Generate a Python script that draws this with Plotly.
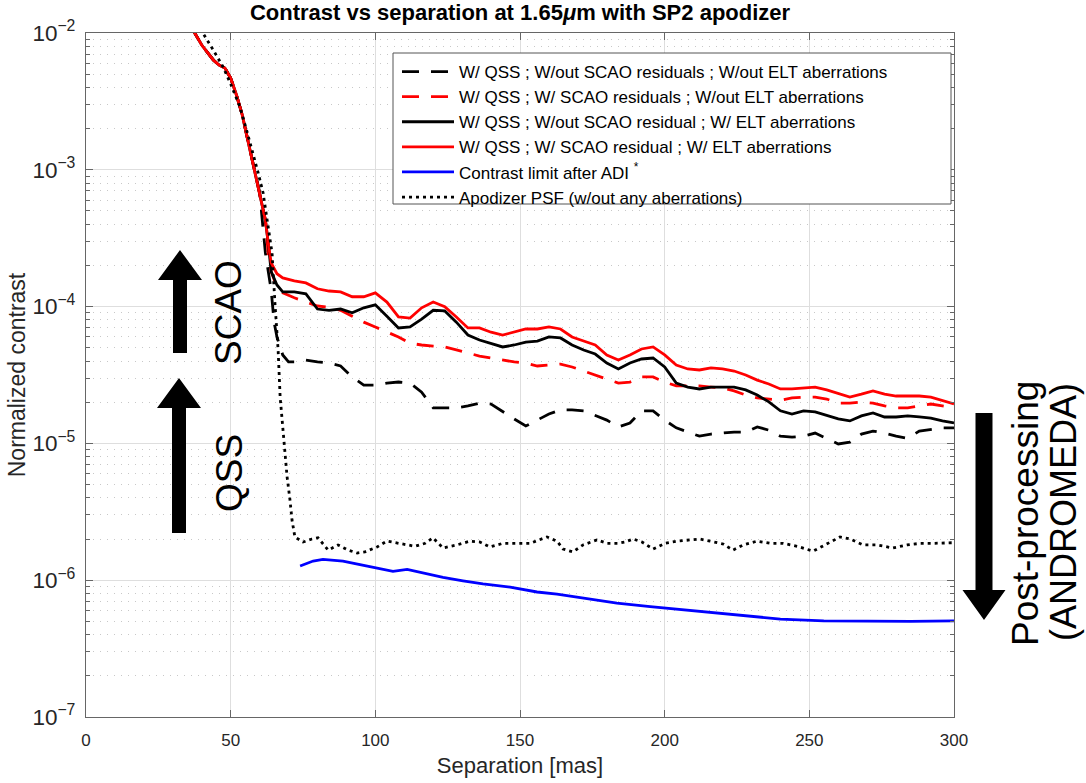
import plotly.graph_objects as go

FONT = "Liberation Sans, Arial, Helvetica, sans-serif"

# ---------------- data (separation in mas, normalized contrast) ----------------
# steep core of the PSF, common to the four simulated curves
steep_sep = [36, 40, 44, 46, 48, 50, 52, 54, 56, 58, 60]
steep_val = [1.14e-2, 8.17e-3, 6.35e-3, 5.83e-3, 5.55e-3, 4.69e-3, 3.52e-3,
             2.52e-3, 1.62e-3, 1.05e-3, 6.9e-4]

tail_sep = [68, 72, 76, 80, 84, 88, 92, 96, 100, 104, 108, 112, 116, 120, 124,
            128, 132, 136, 140, 144, 148, 152, 156, 160, 164, 168, 172, 176, 180,
            184, 188, 192, 196, 200, 204, 208, 212, 216, 220, 224, 228, 232, 236,
            240, 244, 248, 252, 256, 260, 264, 268, 272, 276, 280, 284, 288, 292,
            296, 300]

# W/ QSS ; W/ SCAO residual ; W/ ELT aberrations (red solid)
rs_knee_sep = [62, 63, 64, 66]
rs_knee_val = [4.3e-4, 2.9e-4, 2.09e-4, 1.74e-4]
rs_tail = [1.62e-4, 1.54e-4, 1.49e-4, 1.35e-4, 1.30e-4, 1.28e-4, 1.18e-4, 1.18e-4,
           1.26e-4, 1.08e-4, 8.4e-5, 8.25e-5, 9.8e-5, 1.08e-4, 1.0e-4, 8.4e-5,
           6.98e-5, 6.98e-5, 6.5e-5, 6.2e-5, 6.5e-5, 6.86e-5, 6.86e-5, 7.1e-5,
           6.86e-5, 6.0e-5, 5.6e-5, 5.24e-5, 4.43e-5, 4.07e-5, 4.43e-5, 4.9e-5,
           5.07e-5, 4.43e-5, 3.74e-5, 3.5e-5, 3.44e-5, 3.56e-5, 3.5e-5, 3.38e-5,
           3.16e-5, 2.9e-5, 2.72e-5, 2.5e-5, 2.5e-5, 2.54e-5, 2.58e-5, 2.46e-5,
           2.33e-5, 2.18e-5, 2.29e-5, 2.42e-5, 2.29e-5, 2.22e-5, 2.22e-5, 2.22e-5,
           2.18e-5, 2.07e-5, 1.94e-5]

# W/ QSS ; W/out SCAO residual ; W/ ELT aberrations (black solid)
bs_knee_sep = [62, 63, 64, 66]
bs_knee_val = [4.3e-4, 2.9e-4, 1.8e-4, 1.44e-4]
bs_tail = [1.28e-4, 1.28e-4, 1.24e-4, 9.6e-5, 9.4e-5, 9.6e-5, 9.0e-5, 9.8e-5,
           1.03e-4, 8.5e-5, 6.98e-5, 7.1e-5, 8.1e-5, 9.4e-5, 9.3e-5, 7.7e-5,
           6.2e-5, 5.7e-5, 5.4e-5, 5.07e-5, 5.24e-5, 5.5e-5, 5.6e-5, 6.0e-5,
           5.9e-5, 5.24e-5, 4.82e-5, 4.5e-5, 3.87e-5, 3.5e-5, 3.87e-5, 4.14e-5,
           4.21e-5, 3.62e-5, 2.76e-5, 2.58e-5, 2.5e-5, 2.58e-5, 2.58e-5, 2.58e-5,
           2.46e-5, 2.26e-5, 2.01e-5, 1.73e-5, 1.64e-5, 1.73e-5, 1.70e-5, 1.61e-5,
           1.51e-5, 1.46e-5, 1.59e-5, 1.67e-5, 1.56e-5, 1.56e-5, 1.59e-5, 1.56e-5,
           1.53e-5, 1.46e-5, 1.41e-5]

# W/ QSS ; W/ SCAO residuals ; W/out ELT aberrations (red dashed)
rd_knee_sep = [62, 63, 64, 66]
rd_knee_val = [4.3e-4, 2.4e-4, 1.8e-4, 1.39e-4]
rd_tail = [1.26e-4, 1.16e-4, 1.08e-4, 1.01e-4, 9.9e-5, 9.4e-5, 8.5e-5, 7.7e-5,
           7.1e-5, 6.5e-5, 6.0e-5, 5.4e-5, 5.24e-5, 5.15e-5, 5.07e-5, 4.82e-5,
           4.58e-5, 4.35e-5, 4.21e-5, 4.07e-5, 3.94e-5, 3.87e-5, 3.68e-5, 3.74e-5,
           3.8e-5, 3.62e-5, 3.38e-5, 3.16e-5, 2.96e-5, 2.76e-5, 2.81e-5, 3.06e-5,
           3.06e-5, 2.81e-5, 2.63e-5, 2.63e-5, 2.63e-5, 2.58e-5, 2.54e-5, 2.42e-5,
           2.26e-5, 2.15e-5, 2.11e-5, 2.07e-5, 2.15e-5, 2.18e-5, 2.18e-5, 2.11e-5,
           1.97e-5, 1.97e-5, 2.01e-5, 1.97e-5, 1.88e-5, 1.82e-5, 1.82e-5, 1.88e-5,
           1.94e-5, 1.88e-5, 1.82e-5]

# W/ QSS ; W/out SCAO residuals ; W/out ELT aberrations (black dashed)
bd_knee_sep = [62, 63, 64, 65, 66, 68, 70]
bd_knee_val = [2.47e-4, 1.85e-4, 1.32e-4, 7.7e-5, 6.0e-5, 4.43e-5, 3.94e-5]
bd_tail = [3.94e-5, 4.07e-5, 3.94e-5, 3.87e-5, 3.68e-5, 3.06e-5, 2.67e-5,
           2.67e-5, 2.76e-5, 2.81e-5, 2.76e-5, 2.37e-5, 1.82e-5, 1.82e-5, 1.82e-5,
           1.88e-5, 1.97e-5, 1.94e-5, 1.70e-5, 1.51e-5, 1.34e-5, 1.48e-5, 1.64e-5,
           1.76e-5, 1.76e-5, 1.73e-5, 1.61e-5, 1.48e-5, 1.32e-5, 1.41e-5, 1.73e-5,
           1.73e-5, 1.48e-5, 1.30e-5, 1.21e-5, 1.13e-5, 1.17e-5, 1.19e-5, 1.21e-5,
           1.21e-5, 1.32e-5, 1.25e-5, 1.13e-5, 1.11e-5, 1.13e-5, 1.19e-5, 1.09e-5,
           9.9e-6, 1.02e-5, 1.17e-5, 1.23e-5, 1.19e-5, 1.13e-5, 1.09e-5, 1.23e-5,
           1.27e-5, 1.30e-5, 1.30e-5]   # from 72 mas onward

# Contrast limit after ADI (blue)
adi_sep = [74, 78.5, 81.9, 88.8, 94.7, 100.6, 106.1, 111, 115.5, 123.4, 130.3,
           137.2, 146.6, 155.9, 162.8, 171.8, 183.5, 195, 212, 226, 240, 255,
           270, 285, 300]
adi_val = [1.27e-6, 1.38e-6, 1.42e-6, 1.38e-6, 1.30e-6, 1.23e-6, 1.16e-6,
           1.20e-6, 1.14e-6, 1.05e-6, 9.9e-7, 9.4e-7, 8.9e-7, 8.2e-7, 7.9e-7,
           7.4e-7, 6.8e-7, 6.4e-7, 5.9e-7, 5.5e-7, 5.2e-7, 5.05e-7, 5.0e-7,
           5.0e-7, 5.05e-7]

# Apodizer PSF without aberrations (black dotted)
psf_sep = [38, 40.4, 44, 47.4, 50, 53.2, 55.5, 57.7, 59.5, 61.2, 63, 64.3, 65.3,
           66.4, 67.1, 68.1, 69.5, 70.5, 71.2, 72.2, 75, 78.1, 80.2, 83.7, 87.1,
           90.6, 93.7, 96.4, 100.6, 104, 108.5, 113.7, 117.2, 119.9, 123.4, 128.2,
           132.7, 136.2, 139.6, 144.1, 149, 153.5, 159.3, 162.8, 164.9, 168.3,
           171.8, 176.6, 180.1, 183.9, 186.3, 189.1, 192.2, 196, 200.1, 204.3,
           208.8, 212.2, 215.7, 220.2, 223.6, 227.1, 231.9, 236.4, 240.9, 245.8,
           251.3, 256.1, 260.6, 264.1, 268.6, 273.4, 278.9, 283.8, 288.3, 292.8,
           298.7, 300]
psf_val = [1.18e-2, 1.0e-2, 7.5e-3, 5.64e-3, 4.24e-3, 2.88e-3, 1.95e-3, 1.33e-3,
           9.5e-4, 6.8e-4, 3.95e-4, 2.47e-4, 1.06e-4, 4.82e-5, 2.18e-5, 1.25e-5,
           5.7e-6, 3.86e-6, 2.75e-6, 2.07e-6, 1.9e-6, 2.0e-6, 2.04e-6, 1.66e-6,
           1.81e-6, 1.66e-6, 1.58e-6, 1.61e-6, 1.75e-6, 1.93e-6, 1.86e-6, 1.77e-6,
           1.86e-6, 2.04e-6, 1.72e-6, 1.81e-6, 1.93e-6, 1.90e-6, 1.75e-6, 1.86e-6,
           1.86e-6, 1.86e-6, 2.07e-6, 1.93e-6, 1.69e-6, 1.61e-6, 1.81e-6, 1.97e-6,
           1.86e-6, 1.86e-6, 1.90e-6, 2.0e-6, 1.90e-6, 1.69e-6, 1.86e-6, 1.93e-6,
           1.97e-6, 2.0e-6, 1.93e-6, 1.84e-6, 1.66e-6, 1.81e-6, 1.93e-6, 1.86e-6,
           1.86e-6, 1.77e-6, 1.63e-6, 1.84e-6, 2.07e-6, 2.0e-6, 1.81e-6, 1.81e-6,
           1.72e-6, 1.81e-6, 1.86e-6, 1.86e-6, 1.86e-6, 1.88e-6]

labels = [
    "W/ QSS ; W/out SCAO residuals ; W/out ELT aberrations",
    "W/ QSS ; W/ SCAO residuals ; W/out ELT aberrations",
    "W/ QSS ; W/out SCAO residual ; W/ ELT aberrations",
    "W/ QSS ; W/ SCAO residual ; W/ ELT aberrations",
    "Contrast limit after ADI <sup>*</sup>",
    "Apodizer PSF (w/out any aberrations)",
]

# ---------------- figure ----------------
W, H = 1086, 783
ML, MR, MT, MB = 86, 132, 33, 66
PW, PH = W - ML - MR, H - MT - MB


def px(x):
    return (x - ML) / PW


def py(y):
    return 1 - (y - MT) / PH


fig = go.Figure()
LW = 2.8
DASH = "17px,12px"

fig.add_trace(go.Scatter(x=steep_sep + bd_knee_sep + tail_sep[1:],
                         y=steep_val + bd_knee_val + bd_tail, mode="lines",
                         name=labels[0],
                         line=dict(color="black", width=LW, dash=DASH)))
fig.add_trace(go.Scatter(x=steep_sep + rd_knee_sep + tail_sep,
                         y=steep_val + rd_knee_val + rd_tail, mode="lines",
                         name=labels[1],
                         line=dict(color="#ff0000", width=LW, dash=DASH)))
fig.add_trace(go.Scatter(x=steep_sep + bs_knee_sep + tail_sep,
                         y=steep_val + bs_knee_val + bs_tail, mode="lines",
                         name=labels[2],
                         line=dict(color="black", width=LW)))
fig.add_trace(go.Scatter(x=steep_sep + rs_knee_sep + tail_sep,
                         y=steep_val + rs_knee_val + rs_tail, mode="lines",
                         name=labels[3],
                         line=dict(color="#ff0000", width=LW)))
fig.add_trace(go.Scatter(x=adi_sep, y=adi_val, mode="lines", name=labels[4],
                         line=dict(color="#0000ff", width=LW)))
fig.add_trace(go.Scatter(x=psf_sep, y=psf_val, mode="lines", name=labels[5],
                         line=dict(color="black", width=LW, dash="3px,4px")))

AX = "#666666"
fig.update_xaxes(range=[0, 300], tick0=0, dtick=50, showgrid=True,
                 gridcolor="#dedede", gridwidth=1, zeroline=False,
                 showline=True, linecolor=AX, linewidth=1, mirror="ticks",
                 ticks="inside", ticklen=7, tickcolor=AX,
                 tickfont=dict(family=FONT, size=17, color="#262626"),
                 ticklabelstandoff=8,
                 title=dict(text="Separation [mas]", standoff=8,
                            font=dict(family=FONT, size=22, color="#262626")))
fig.update_yaxes(type="log", range=[-7, -2], dtick=1, exponentformat="power",
                 showexponent="all", showgrid=True, gridcolor="#dedede",
                 gridwidth=1, zeroline=False, showline=True, linecolor=AX,
                 linewidth=1, mirror="ticks", ticks="inside", ticklen=7,
                 tickcolor=AX,
                 tickfont=dict(family=FONT, size=18, color="#262626"),
                 ticklabelstandoff=6,
                 minor=dict(dtick="D1", ticks="inside", ticklen=4, tickcolor=AX,
                            showgrid=True, gridcolor="#c8c8c8",
                            griddash="1px,6px", gridwidth=1),
                 title=dict(text="Normalized contrast", standoff=0,
                            font=dict(family=FONT, size=23, color="#262626")))


def arrow_up(x_c, y_tip, y_base, y_bot, head_hw, shaft_hw):
    pts = [(x_c, y_tip), (x_c + head_hw, y_base), (x_c + shaft_hw, y_base),
           (x_c + shaft_hw, y_bot), (x_c - shaft_hw, y_bot),
           (x_c - shaft_hw, y_base), (x_c - head_hw, y_base)]
    return "M " + " L ".join(f"{px(a):.5f},{py(b):.5f}" for a, b in pts) + " Z"


shapes = [
    # legend frame
    dict(type="rect", xref="paper", yref="paper", layer="above",
         x0=px(393), x1=px(951), y0=py(204), y1=py(53),
         fillcolor="white", line=dict(color="#555555", width=1)),
    dict(type="path", xref="paper", yref="paper",
         path=arrow_up(180, 250, 280, 353, 22, 7), fillcolor="black",
         line=dict(width=0)),
    dict(type="path", xref="paper", yref="paper",
         path=arrow_up(179, 378, 408, 533, 22, 7), fillcolor="black",
         line=dict(width=0)),
    dict(type="path", xref="paper", yref="paper",
         path=arrow_up(984, 620, 590, 413, 21.5, 8.5), fillcolor="black",
         line=dict(width=0)),
]

annotations = [
    dict(text="SCAO", x=px(228), y=py(313), xref="paper", yref="paper",
         textangle=-90, showarrow=False,
         font=dict(family=FONT, size=37, color="black"),
         xanchor="center", yanchor="middle"),
    dict(text="QSS", x=px(229), y=py(473), xref="paper", yref="paper",
         textangle=-90, showarrow=False,
         font=dict(family=FONT, size=37, color="black"),
         xanchor="center", yanchor="middle"),
    dict(text="Post-processing", x=px(1025), y=py(514), xref="paper",
         yref="paper", textangle=-90, showarrow=False,
         font=dict(family=FONT, size=37, color="black"),
         xanchor="center", yanchor="middle"),
    dict(text="(ANDROMEDA)", x=px(1063), y=py(512), xref="paper",
         yref="paper", textangle=-90, showarrow=False,
         font=dict(family=FONT, size=36, color="black"),
         xanchor="center", yanchor="middle"),
]

fig.update_layout(
    width=W, height=H,
    margin=dict(l=ML, r=MR, t=MT, b=MB, autoexpand=False),
    paper_bgcolor="white", plot_bgcolor="white",
    font=dict(family=FONT, color="#262626"),
    title=dict(text="<b>Contrast vs separation at 1.65<i>μ</i>m with SP2 apodizer</b>",
               x=0.5, xref="paper", xanchor="center", y=1 - 12 / H,
               yanchor="middle", font=dict(family=FONT, size=22, color="black")),
    legend=dict(x=px(397), y=py(54), xanchor="left", yanchor="top",
                bgcolor="rgba(0,0,0,0)", borderwidth=0,
                font=dict(family=FONT, size=17, color="black"),
                itemwidth=52, tracegroupgap=0),
    shapes=shapes, annotations=annotations,
)

fig.write_html("out.html", config={"displayModeBar": False},
               post_script="document.body.style.margin='0';"
                           "document.body.style.overflow='hidden';")
